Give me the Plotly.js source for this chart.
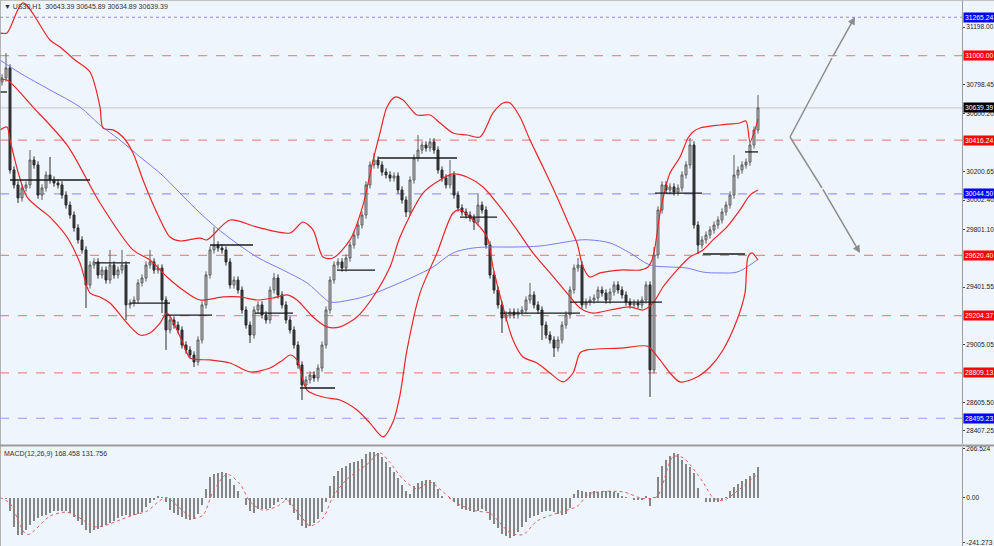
<!DOCTYPE html>
<html><head><meta charset="utf-8">
<script src="https://cdn.plot.ly/plotly-3.0.1.min.js"></script>
<style>html,body{margin:0;padding:0;background:#eef5fd;}#chart{width:994px;height:546px;}</style>
</head><body><div id="chart"></div>
<script>
// ---------- data ----------
const symbolLabel = "US30,H1";
const lastQuote = ["30643.39", "30645.89", "30634.89", "30639.39"];

const open = [
30818,30846,30915,30210,30107,30017,30086,30107,30279,30245,
30037,30086,30176,30141,30120,30107,30037,29968,29899,29810,
29727,29658,29416,29554,29575,29485,29519,29450,29554,29485,
29519,29554,29278,29291,29312,29430,29464,29554,29575,29519,
29533,29312,29105,29174,29139,29105,29001,28967,28932,28884,
29036,29278,29485,29658,29692,29671,29658,29575,29416,29450,
29381,29243,29139,29070,29243,29278,29209,29174,29381,29464,
29347,29278,29174,29105,29001,28863,28725,28760,28794,28773,
28842,29001,29243,29450,29554,29575,29533,29602,29692,29761,
29830,29899,30107,30245,30279,30245,30196,30176,30155,30169,
30072,30003,29920,30141,30293,30348,30383,30362,30404,30348,
30210,30155,30107,30176,30037,29948,29920,29899,29879,29851,
29968,29934,29692,29485,29381,29278,29188,29209,29229,29209,
29229,29243,29312,29347,29278,29243,29139,29070,29036,28981,
29036,29139,29209,29381,29533,29554,29278,29298,29312,29326,
29381,29360,29312,29367,29416,29381,29347,29298,29278,29291,
29278,29312,29416,28829,29623,29934,30107,30072,30093,30058,
30086,30176,30245,30383,29830,29692,29727,29761,29796,29830,
29865,29920,29968,30037,30176,30210,30245,30265,30383,30486];
const high = [
30871,31018,30940,30235,30132,30111,30132,30348,30304,30270,
30111,30201,30300,30166,30145,30132,30062,29993,29924,29835,
29752,29683,29579,29600,29600,29544,29544,29658,29579,29544,
29658,29579,29316,29337,29455,29489,29579,29658,29600,29558,
29558,29337,29199,29199,29164,29130,29026,28992,28957,29061,
29303,29510,29683,29816,29717,29696,29683,29600,29475,29475,
29406,29268,29164,29268,29303,29303,29234,29406,29499,29489,
29372,29303,29199,29130,29026,28888,28785,28819,28819,28867,
29026,29268,29475,29579,29600,29600,29627,29717,29786,29855,
29924,30132,30270,30328,30304,30270,30221,30201,30194,30194,
30097,30028,30166,30318,30452,30408,30408,30429,30429,30373,
30235,30180,30279,30201,30062,29973,29945,29924,29904,30051,
29993,29959,29717,29510,29406,29303,29234,29254,29254,29254,
29268,29337,29430,29372,29303,29268,29164,29095,29061,29061,
29164,29234,29406,29558,29602,29579,29323,29337,29351,29406,
29406,29385,29392,29441,29441,29406,29372,29323,29316,29316,
29337,29441,29441,29678,29959,30132,30132,30118,30118,30111,
30201,30270,30431,30408,29855,29752,29786,29821,29855,29890,
29945,29993,30062,30314,30235,30270,30290,30408,30511,30728];
const low = [
30793,30821,30185,30082,29982,29992,30061,30082,30220,30012,
30003,30061,30116,30095,30082,30012,29943,29874,29785,29702,
29633,29257,29391,29529,29460,29460,29425,29425,29460,29460,
29494,29174,29253,29266,29287,29405,29439,29529,29494,29494,
29222,28967,29080,29114,29080,28976,28942,28907,28849,28859,
29011,29253,29460,29633,29646,29633,29550,29391,29391,29356,
29218,29114,29015,29045,29218,29184,29149,29149,29356,29322,
29253,29149,29080,28976,28838,28621,28700,28735,28748,28748,
28817,28976,29218,29425,29529,29508,29508,29577,29667,29736,
29805,29874,30082,30220,30220,30171,30151,30130,30130,30047,
29978,29885,29895,30116,30268,30323,30337,30337,30323,30185,
30130,30082,30082,30012,29923,29895,29874,29854,29796,29826,
29909,29667,29460,29356,29253,29084,29163,29184,29184,29184,
29204,29218,29287,29253,29218,29036,29045,29011,28918,28956,
29011,29114,29184,29356,29508,29253,29253,29273,29287,29301,
29335,29287,29287,29342,29356,29322,29273,29253,29253,29253,
29253,29287,28642,28804,29598,29909,30047,30047,30033,30033,
30061,30151,30220,29805,29630,29667,29702,29736,29771,29805,
29840,29895,29943,30012,30151,30185,30220,30240,30358,30461];
const close = [
30846,30915,30210,30107,30017,30086,30107,30279,30245,30037,
30086,30176,30141,30120,30107,30037,29968,29899,29810,29727,
29658,29416,29554,29575,29485,29519,29450,29554,29485,29519,
29554,29278,29291,29312,29430,29464,29554,29575,29519,29533,
29312,29105,29174,29139,29105,29001,28967,28932,28884,29036,
29278,29485,29658,29692,29671,29658,29575,29416,29450,29381,
29243,29139,29070,29243,29278,29209,29174,29381,29464,29347,
29278,29174,29105,29001,28863,28725,28760,28794,28773,28842,
29001,29243,29450,29554,29575,29533,29602,29692,29761,29830,
29899,30107,30245,30279,30245,30196,30176,30155,30169,30072,
30003,29920,30141,30293,30348,30383,30362,30404,30348,30210,
30155,30107,30176,30037,29948,29920,29899,29879,29851,29968,
29934,29692,29485,29381,29278,29188,29209,29229,29209,29229,
29243,29312,29347,29278,29243,29139,29070,29036,28981,29036,
29139,29209,29381,29533,29554,29278,29298,29312,29326,29381,
29360,29312,29367,29416,29381,29347,29298,29278,29291,29278,
29312,29416,28829,29623,29934,30107,30072,30093,30058,30086,
30176,30245,30383,29830,29692,29727,29761,29796,29830,29865,
29920,29968,30037,30176,30210,30245,30265,30383,30486,30639.39];

// Bollinger bands (bar index / price)
const upperIdx = [-0.5,1.25,5.25,12,14.5,18.25,22,24.5,25.25,27.75,30.25,32.75,35.25,38.75,42,44.5,49.5,51.25,57,63.75,72,75.25,77.75,80.25,82.75,87,90.25,92.5,94.5,96.25,98.25,100.25,103.75,107,109.5,112.75,116.25,119.5,122.75,125.25,127,129.5,132,135.25,138.75,141.25,143.75,145.25,147,149.5,154.5,159.5,161.5,162.5,163.25,164.5,165.75,167,169.5,171.5,172.75,174.5,179.5,184.5,186,187,188,189];
const upperVal = [31157,31157,31364,31108,31060,30970,30887,30645,30500,30487,30438,30328,30141,29913,29747,29720,29740,29727,29865,29816,29775,29851,29796,29609,29602,29727,29968,30245,30466,30645,30714,30694,30590,30590,30535,30466,30452,30438,30604,30673,30673,30576,30417,30231,30024,29865,29706,29540,29471,29499,29519,29519,29540,29588,29678,29913,30072,30189,30300,30431,30473,30500,30521,30535,30549,30404,30466,30562];
const midIdx = [-0.5,1.25,7.75,16.25,24.5,32.75,37,41.25,45.25,49.5,55.25,59.5,63.75,67.75,71.25,73.75,77.75,81.25,84.5,88.75,92.75,97,99.5,105.25,109.5,112.75,116.25,120.25,124.5,128.75,132.75,137,141.25,144.5,147.75,152,157,160.25,162.75,165.25,168.75,172,175.25,177.75,181.25,184.5,187,189];
const midVal = [30832,30832,30645,30383,29982,29658,29588,29471,29381,29312,29333,29333,29312,29326,29347,29312,29195,29126,29126,29195,29333,29540,29747,30051,30141,30183,30162,30093,29955,29796,29637,29499,29360,29257,29222,29243,29264,29243,29291,29402,29519,29609,29657,29727,29817,29934,30037,30072];
const lowerIdx = [-0.5,1.25,2,6.25,12,16.25,19.5,22,24.5,27,31.25,34.5,37,39.5,41.25,45.25,47,52,57,62,67,70.25,72,73.75,76.25,80.25,84.5,88.75,92,95.25,97.75,99.5,101.25,104.5,108.75,112.75,114.5,117,121.25,122.75,125.25,127.75,130.25,133.75,137,140.25,142.75,144.5,146.25,154.5,161.25,162.5,164.5,167,169.5,173.75,177,180.25,183.75,185.75,186.5,187.5,189];
const lowerVal = [30486,30507,30417,30024,29885,29747,29568,29360,29333,29291,29153,29070,29084,29153,29222,29015,28911,28898,28877,28815,28842,28898,28932,28898,28690,28642,28621,28552,28462,28366,28469,28656,28967,29360,29637,29913,29934,29885,29747,29540,29264,29036,28918,28877,28808,28746,28808,28946,28967,28980,28994,28967,28898,28808,28746,28780,28849,28967,29174,29360,29609,29637,29588];
// moving average (blue)
const maIdx = [-0.5,4.5,12,19.5,24.5,29.5,34.5,39.5,44.5,49.5,55.25,63.75,70.25,76.25,80.25,82,87,92,97,102.75,107.75,112.75,117.75,122,127.75,134.5,139.5,144.5,147,152,157,162,167,171.25,175.25,179.5,183.75,187,188.75];
const maVal = [30970,30880,30763,30645,30521,30417,30300,30189,30051,29913,29775,29609,29519,29430,29333,29298,29312,29347,29402,29471,29540,29637,29671,29678,29678,29685,29706,29727,29727,29706,29637,29554,29540,29533,29505,29499,29505,29554,29588];

// short black level segments (from bar, to bar, price)
const segFrom  = [-0.5, 2, 23.25, 32, 41.25, 52, 63.25, 74.5, 83.75, 94, 114.5, 124.5, 142, 163.25, 175.25, 185.75];
const segTo    = [1.25, 22, 32, 42, 52.5, 62.75, 72.75, 83.25, 93.25, 113.75, 123.75, 144.5, 165, 175, 185.75, 189];
const segPrice = [30749, 30141, 29568, 29291, 29208, 29692, 29222, 28704, 29519, 30293, 29885, 29222, 29298, 30051, 29630, 30335];

// horizontal price levels
const levelPrice = [31265.24, 31000.00, 30639.39, 30416.24, 30044.50, 29620.40, 29204.37, 28809.13, 28495.23];
const levelKind  = ['blueDot', 'red', 'current', 'red', 'blue', 'red', 'red', 'red', 'blue'];

// price axis ticks
const priceTicks = [31198.00, 30798.45, 30600.20, 30200.65, 30002.40, 29801.10, 29401.55, 29005.05, 28605.50, 28407.25];

// projection arrows (bar index / price)
const arrowUpIdx = [197, 207.5, 213.25];
const arrowUpPrice = [30438, 30984, 31267];
const arrowDownIdx = [197, 205, 214.5];
const arrowDownPrice = [30438, 30086, 29637];

// MACD(12,26,9)
const macdMain = [
0,-4,-72,-157,-200,-202,-173,-147,-126,-110,
-99,-94,-83,-72,-72,-72,-72,-83,-104,-126,
-147,-173,-189,-173,-168,-157,-147,-136,-126,-110,
-99,-94,-99,-94,-89,-78,-51,-30,-9,12,
7,-25,-67,-83,-94,-104,-115,-120,-115,-89,
-41,49,113,129,134,139,134,102,70,39,
2,-36,-72,-83,-62,-62,-62,-57,-41,-20,
-4,-14,-41,-83,-120,-152,-163,-152,-136,-115,
-78,-20,65,118,145,161,176,192,198,203,
214,240,251,251,245,224,198,171,139,108,
70,39,23,65,81,92,97,97,86,49,
12,2,-4,-25,-46,-62,-67,-72,-78,-72,
-62,-72,-120,-142,-163,-195,-210,-216,-205,-184,
-157,-131,-110,-99,-94,-78,-72,-72,-78,-89,
-94,-89,-57,23,44,39,33,33,39,33,
39,39,39,33,28,12,7,2,-9,-14,
-9,12,-46,7,113,176,208,229,245,240,
208,187,171,134,55,2,-20,-25,-25,-20,
-9,7,39,60,76,92,102,118,134,168.458];
const sigIdx = [-0.5,2,6.25,12,16.25,20.25,22.75,26.25,29.5,32.75,36.25,39.5,41.25,44.5,47.75,50.25,52.75,56.25,59.5,62,65.25,68.75,71.25,74.5,77,80.25,82.75,86.25,91.25,94.5,97,100.25,103.75,107,110.25,113.75,118.75,122,127,130.25,133.75,138.75,143.75,147,155.25,160.25,163.75,167.75,170.25,175.25,177.75,180.25,184.5,189];
const sigVal = [2,-30,-200,-99,-78,-120,-157,-147,-120,-94,-72,-14,2,-57,-110,-94,33,129,76,-20,-67,-46,-14,-94,-152,-110,7,102,182,245,192,102,49,86,33,-30,-72,-83,-189,-200,-126,-83,-46,23,33,-4,7,224,219,86,2,-14,49,131.756];
const macdTicks = [266.524, 0, -241.273];
const macdTickText = ['266.524', '0.00', '-241.273'];

// ---------- build ----------
const barIdx = close.map((_, i) => i);
const FONT = 'Liberation Sans, Arial, sans-serif';
const RED = '#e8262a';

const segX = [], segY = [];
segFrom.forEach((f, i) => { segX.push(f, segTo[i], null); segY.push(segPrice[i], segPrice[i], null); });

const traces = [
  {type:'scatter', mode:'lines', x: maIdx, y: maVal, line:{color:'#7c7cf2', width:1, shape:'spline', smoothing:1}, hoverinfo:'skip', xaxis:'x', yaxis:'y'},
  {type:'scatter', mode:'lines', x: upperIdx, y: upperVal, line:{color:RED, width:1.2, shape:'spline', smoothing:0.8}, hoverinfo:'skip', xaxis:'x', yaxis:'y'},
  {type:'scatter', mode:'lines', x: midIdx, y: midVal, line:{color:RED, width:1.2, shape:'spline', smoothing:0.8}, hoverinfo:'skip', xaxis:'x', yaxis:'y'},
  {type:'scatter', mode:'lines', x: lowerIdx, y: lowerVal, line:{color:RED, width:1.2, shape:'spline', smoothing:0.8}, hoverinfo:'skip', xaxis:'x', yaxis:'y'},
  {type:'candlestick', x: barIdx, open, high, low, close, xaxis:'x', yaxis:'y', hoverinfo:'skip',
    whiskerwidth: 0,
    increasing:{line:{color:'#5c5c5c', width:1}, fillcolor:'#c4c4c4'},
    decreasing:{line:{color:'#2a2a2a', width:1}, fillcolor:'#3a3a3a'}},
  {type:'scatter', mode:'lines', x: segX, y: segY, connectgaps:false, line:{color:'#1a1a1a', width:1.3}, hoverinfo:'skip', xaxis:'x', yaxis:'y'},
  {type:'scatter', mode:'lines', x: arrowUpIdx.slice(0,2), y: arrowUpPrice.slice(0,2), line:{color:'#8c8c8c', width:1.5}, hoverinfo:'skip', xaxis:'x', yaxis:'y'},
  {type:'scatter', mode:'lines', x: arrowDownIdx.slice(0,2), y: arrowDownPrice.slice(0,2), line:{color:'#8c8c8c', width:1.5}, hoverinfo:'skip', xaxis:'x', yaxis:'y'},
  {type:'bar', x: barIdx, y: macdMain, width:0.62, marker:{color:'#858585', line:{width:0}}, hoverinfo:'skip', xaxis:'x', yaxis:'y2'},
  {type:'scatter', mode:'lines', x: sigIdx, y: sigVal, line:{color:'#e06060', width:1, dash:'dot', shape:'spline', smoothing:0.8}, hoverinfo:'skip', xaxis:'x', yaxis:'y2'}
];

const kindStyle = {
  red:     {line:'#f08a8a', dash:'dash', width:1.2, bg:'#ff0000'},
  blue:    {line:'#9a9af5', dash:'dash', width:1.2, bg:'#0000ff'},
  blueDot: {line:'#8888f0', dash:'dot',  width:1,   bg:'#0000ff'},
  current: {line:'#c8c8c8', dash:'solid',width:1,   bg:'#000000'}
};

const shapes = levelPrice.map((p, i) => {
  const s = kindStyle[levelKind[i]];
  return {type:'line', xref:'paper', x0:0, x1:1, yref:'y', y0:p, y1:p, layer:'below',
          line:{color:s.line, width:s.width, dash:s.dash}};
});
// pane separator and borders
shapes.push({type:'line', xref:'paper', yref:'paper', x0:0, x1:1.034, y0:1-445.5/546, y1:1-445.5/546, line:{color:'#9c9c9c', width:2}});
shapes.push({type:'line', xref:'paper', yref:'paper', x0:0, x1:0, y0:0, y1:1, line:{color:'#9c9c9c', width:1.5}});
shapes.push({type:'line', xref:'paper', yref:'paper', x0:0, x1:1.034, y0:1, y1:1, line:{color:'#b0b0b0', width:1.5}});

const annotations = levelPrice.map((p, i) => ({
  xref:'paper', yref:'y', x:1, y:p, xanchor:'left', yanchor:'middle', xshift:1,
  text: p.toFixed(2), showarrow:false, bgcolor: kindStyle[levelKind[i]].bg,
  font:{family:FONT, size:6.8, color:'#ffffff'}, borderpad:1
}));
annotations.push({xref:'x', yref:'y', axref:'x', ayref:'y', x: arrowUpIdx[2], y: arrowUpPrice[2], ax: arrowUpIdx[1], ay: arrowUpPrice[1],
  showarrow:true, arrowhead:2, arrowsize:1, arrowwidth:1.5, arrowcolor:'#8c8c8c', text:''});
annotations.push({xref:'x', yref:'y', axref:'x', ayref:'y', x: arrowDownIdx[2], y: arrowDownPrice[2], ax: arrowDownIdx[1], ay: arrowDownPrice[1],
  showarrow:true, arrowhead:2, arrowsize:1, arrowwidth:1.5, arrowcolor:'#8c8c8c', text:''});
annotations.push({xref:'paper', yref:'paper', x:0, y:1, xanchor:'left', yanchor:'top', xshift:2, yshift:-1,
  text: '\u25BC ' + symbolLabel + '  ' + lastQuote.join(' '), showarrow:false,
  font:{family:FONT, size:7, color:'#333333'}});
annotations.push({xref:'paper', yref:'paper', x:0, y:1-448/546, xanchor:'left', yanchor:'top', xshift:2,
  text: 'MACD(12,26,9) ' + macdMain[macdMain.length-1].toFixed(3) + ' ' + sigVal[sigVal.length-1].toFixed(3), showarrow:false,
  font:{family:FONT, size:7, color:'#333333'}});

const axisFont = {family:FONT, size:6.6, color:'#222222'};
const layout = {
  width:994, height:546,
  margin:{l:0, r:32, t:0, b:0, pad:0},
  paper_bgcolor:'#eef5fd', plot_bgcolor:'#eef5fd',
  showlegend:false, hovermode:false, bargap:0,
  xaxis:{range:[-0.5, 240], showgrid:false, zeroline:false, showticklabels:false, ticks:'', showline:false,
         rangeslider:{visible:false}, anchor:'y2', fixedrange:true},
  yaxis:{domain:[1-444/546, 1], range:[28317.3, 31384.5], side:'right', anchor:'x', showgrid:false, zeroline:false,
         tickvals: priceTicks, ticktext: priceTicks.map(v => v.toFixed(2)), ticks:'outside', ticklen:2, tickcolor:'#444',
         tickfont: axisFont, showline:true, linecolor:'#9c9c9c', linewidth:1, ticklabelstandoff:0, fixedrange:true},
  yaxis2:{domain:[0, 99/546], range:[-262, 277.2], side:'right', anchor:'x', showgrid:false, zeroline:false,
         tickvals: macdTicks, ticktext: macdTickText, ticks:'outside', ticklen:2, tickcolor:'#444',
         tickfont: axisFont, showline:true, linecolor:'#9c9c9c', linewidth:1, ticklabelstandoff:0, fixedrange:true},
  shapes, annotations
};

Plotly.newPlot('chart', traces, layout, {displayModeBar:false, staticPlot:true});
</script>
</body></html>
